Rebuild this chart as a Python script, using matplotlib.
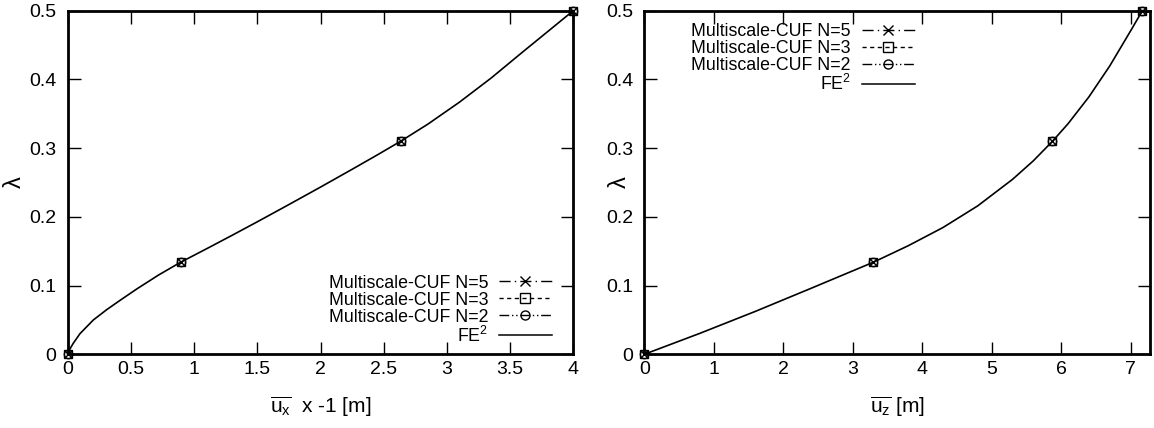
import matplotlib
matplotlib.use("Agg")
import matplotlib.pyplot as plt
from matplotlib.lines import Line2D

plt.rcParams["font.family"] = ["Liberation Sans", "DejaVu Sans"]
plt.rcParams["mathtext.fontset"] = "custom"
plt.rcParams["mathtext.rm"] = "Liberation Sans"
plt.rcParams["mathtext.it"] = "Liberation Sans"
plt.rcParams["mathtext.bf"] = "Liberation Sans:bold"

# --- load-displacement data -------------------------------------------------
# horizontal displacement (x -1) vs load factor, FE^2 reference
fe2_ux = [0.0, 0.015, 0.044, 0.097, 0.203, 0.309, 0.414, 0.55, 0.72, 0.894,
          1.1, 1.3, 1.5, 1.75, 2.0, 2.25, 2.45, 2.634, 2.85, 3.1, 3.35,
          3.6, 3.8, 3.92, 4.0]
fe2_lam_x = [0.0, 0.007, 0.016, 0.030, 0.050, 0.065, 0.0785, 0.0955, 0.1155,
             0.134, 0.1537, 0.1731, 0.1928, 0.2179, 0.2433, 0.2692, 0.2902,
             0.310, 0.335, 0.367, 0.402, 0.440, 0.470, 0.488, 0.5]

# vertical displacement vs load factor, FE^2 reference
fe2_uz = [0.0, 0.8, 1.6, 2.4, 3.298, 3.8, 4.3, 4.8, 5.3, 5.6, 5.876,
          6.1, 6.4, 6.7, 7.0, 7.17]
fe2_lam_z = [0.0, 0.0305, 0.0625, 0.096, 0.134, 0.158, 0.1845, 0.216,
             0.2545, 0.2815, 0.310, 0.3355, 0.3745, 0.4195, 0.4705, 0.5]

# Multiscale-CUF results (identical for N=5, 3, 2 at the plotted resolution)
cuf_lam = [0.0, 0.134, 0.310, 0.5]
cuf_ux = {"N=5": [0.0, 0.894, 2.634, 4.0],
          "N=3": [0.0, 0.894, 2.634, 4.0],
          "N=2": [0.0, 0.894, 2.634, 4.0]}
cuf_uz = {"N=5": [0.0, 3.298, 5.876, 7.17],
          "N=3": [0.0, 3.298, 5.876, 7.17],
          "N=2": [0.0, 3.298, 5.876, 7.17]}

styles = {
    "N=5": dict(marker="x", ls=(0, (8, 3, 1, 3))),
    "N=3": dict(marker="s", ls=(0, (3, 2.5))),
    "N=2": dict(marker="o", ls=(0, (7, 2, 1, 2, 1, 2))),
}

FS_LEG = 12.8
FS_TICK = 14
FS_LAB = 15
W, H = 1154, 428
fig = plt.figure(figsize=(W / 100, H / 100), dpi=100)

ax_l = fig.add_axes([67.7 / W, (H - 354.3) / H, 505.6 / W, 343.6 / H])
ax_r = fig.add_axes([644.3 / W, (H - 354.3) / H, 505.7 / W, 343.6 / H])


def draw(ax, xs, fe_x, fe_y, xlim, xticks):
    for key in ["N=5", "N=3", "N=2"]:
        ax.plot(xs[key], cuf_lam, linestyle="none", marker=styles[key]["marker"],
                ms=6, mfc="none", mec="black", mew=1.0, clip_on=False, zorder=3)
    ax.plot(fe_x, fe_y, color="black", lw=1.2, zorder=4, clip_on=False,
            solid_joinstyle="round")
    ax.set_xlim(*xlim)
    ax.set_ylim(0, 0.5)
    ax.set_xticks(xticks)
    ax.set_xticklabels([f"{t:g}" for t in xticks])
    ax.set_yticks([0, 0.1, 0.2, 0.3, 0.4, 0.5])
    ax.set_yticklabels(["0", "0.1", "0.2", "0.3", "0.4", "0.5"])
    ax.tick_params(direction="in", length=9, width=1.0, top=True, right=True,
                   labelsize=FS_TICK, colors="black")
    ax.tick_params(axis="x", pad=5)
    ax.tick_params(axis="y", pad=8)
    for s in ax.spines.values():
        s.set_linewidth(2.0)
    ax.set_ylabel("λ", fontsize=17)
    ax.yaxis.label.set_va("center")
    ax.xaxis.label.set_va("center")

    handles = []
    labels = []
    for key in ["N=5", "N=3", "N=2"]:
        handles.append(Line2D([], [], color="black", lw=1.0, ls=styles[key]["ls"],
                              marker=styles[key]["marker"], ms=6.5, mfc="none",
                              mew=1.0))
        labels.append(f"Multiscale-CUF {key}")
    handles.append(Line2D([], [], color="black", lw=1.1))
    labels.append("FE$^2$")
    return handles, labels


leg_kw = dict(frameon=False, markerfirst=False, fontsize=FS_LEG, handlelength=3.0,
              handletextpad=0.6, labelspacing=0.0, borderpad=0, borderaxespad=0,
              numpoints=1)

h, lab = draw(ax_l, cuf_ux, fe2_ux, fe2_lam_x, (0, 4),
              [0, 0.5, 1, 1.5, 2, 2.5, 3, 3.5, 4])
ax_l.set_xlabel(r"$\overline{\mathrm{u}_\mathrm{x}}$  x -1 [m]", fontsize=FS_LAB)
ax_l.xaxis.set_label_coords(0.5, -0.153)
ax_l.yaxis.set_label_coords(-0.104, 0.5)
ax_l.legend(h, lab, loc="lower right", bbox_to_anchor=(0.958, 0.025), **leg_kw)

h, lab = draw(ax_r, cuf_uz, fe2_uz, fe2_lam_z, (0, 7.28),
              [0, 1, 2, 3, 4, 5, 6, 7])
ax_r.set_xlabel(r"$\overline{\mathrm{u}_\mathrm{z}}$ [m]", fontsize=FS_LAB)
ax_r.xaxis.set_label_coords(0.5, -0.153)
ax_r.yaxis.set_label_coords(-0.048, 0.5)
ax_r.legend(h, lab, loc="upper right", bbox_to_anchor=(0.535, 0.965), **leg_kw)

fig.savefig("out.png", dpi=100)
